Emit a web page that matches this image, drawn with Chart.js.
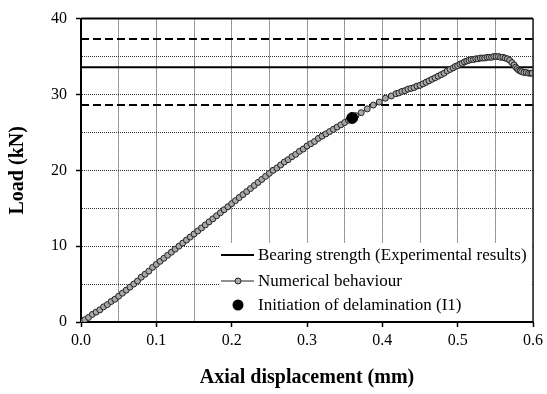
<!DOCTYPE html>
<html lang="en">
<head>
  <meta charset="UTF-8">
  <title>Load vs axial displacement</title>
  <script src="https://cdn.jsdelivr.net/npm/chart.js"></script>
  <style>
    body { margin: 0; background: #fff; }
    canvas { display: block; }
  </style>
</head>
<body>
  <canvas id="loadChart" width="547" height="394"></canvas>

  <script>
    // Numerical behaviour (mm, kN)
    const displacement = [
      0.000, 0.005, 0.010, 0.015, 0.020, 0.025, 0.030, 0.035, 0.040, 0.045,
      0.050, 0.055, 0.060, 0.065, 0.070, 0.075, 0.080, 0.085, 0.090, 0.095,
      0.100, 0.105, 0.110, 0.115, 0.120, 0.125, 0.130, 0.135, 0.140, 0.145,
      0.150, 0.155, 0.160, 0.165, 0.170, 0.175, 0.180, 0.185, 0.190, 0.195,
      0.200, 0.205, 0.210, 0.215, 0.220, 0.225, 0.230, 0.235, 0.240, 0.245,
      0.250, 0.255, 0.260, 0.265, 0.270, 0.275, 0.280, 0.285, 0.290, 0.295,
      0.300, 0.305, 0.310, 0.315, 0.320, 0.325, 0.330, 0.335, 0.340, 0.345,
      0.350, 0.355, 0.360, 0.365, 0.372, 0.380, 0.388, 0.396, 0.404, 0.412,
      0.418, 0.422, 0.426, 0.430, 0.434, 0.438, 0.442, 0.446, 0.450, 0.454,
      0.458, 0.462, 0.466, 0.470, 0.474, 0.478, 0.482, 0.486, 0.490, 0.494,
      0.497, 0.500, 0.503, 0.506, 0.509, 0.512, 0.515, 0.518, 0.521, 0.524,
      0.527, 0.530, 0.533, 0.536, 0.539, 0.542, 0.545, 0.548, 0.551, 0.554,
      0.557, 0.560, 0.563, 0.566, 0.569, 0.572, 0.575, 0.577, 0.579, 0.581,
      0.583, 0.585, 0.588, 0.591, 0.594, 0.597, 0.599
    ];
    const load = [
      0.0, 0.3, 0.6, 1.0, 1.3, 1.6, 2.0, 2.3, 2.7, 3.0,
      3.4, 3.8, 4.2, 4.6, 5.0, 5.4, 5.9, 6.3, 6.7, 7.2,
      7.6, 8.0, 8.4, 8.8, 9.2, 9.6, 10.0, 10.4, 10.8, 11.2,
      11.6, 12.0, 12.4, 12.8, 13.2, 13.6, 14.0, 14.4, 14.8, 15.2,
      15.6, 16.0, 16.4, 16.8, 17.2, 17.6, 18.0, 18.4, 18.8, 19.2,
      19.6, 20.0, 20.3, 20.7, 21.1, 21.4, 21.8, 22.1, 22.5, 22.8,
      23.2, 23.5, 23.8, 24.2, 24.5, 24.8, 25.1, 25.4, 25.7, 26.0,
      26.3, 26.6, 26.9, 27.2, 27.6, 28.1, 28.6, 29.0, 29.5, 29.8,
      30.1, 30.2, 30.4, 30.5, 30.7, 30.8, 30.9, 31.1, 31.2, 31.4,
      31.6, 31.8, 32.0, 32.2, 32.4, 32.6, 32.8, 33.1, 33.3, 33.5,
      33.7, 33.8, 34.0, 34.1, 34.3, 34.4, 34.5, 34.6, 34.6, 34.7,
      34.7, 34.8, 34.8, 34.8, 34.9, 34.9, 34.9, 35.0, 35.0, 35.0,
      34.9, 34.9, 34.8, 34.7, 34.5, 34.2, 33.9, 33.6, 33.4, 33.2,
      33.1, 33.0, 32.9, 32.9, 32.8, 32.8, 32.8
    ];

    // Initiation of delamination (I1)
    const delamX = [0.36];
    const delamY = [26.9];

    // Experimental bearing strength and its scatter band
    const lineX = [0, 0.6];
    const bearingStrength = 33.6;
    const bearingUpper = 37.3;
    const bearingLower = 28.6;

    const legendLabels = [
      'Bearing strength (Experimental results)',
      'Numerical behaviour',
      'Initiation of delamination (I1)'
    ];

    const serif = "'Liberation Serif', 'Times New Roman', serif";
    const markerFill = '#a8a8a8';
    const markerEdge = '#222';

    const numPoints = displacement.map((x, i) => ({ x: x, y: load[i] }));
    const delamPoints = delamX.map((x, i) => ({ x: x, y: delamY[i] }));
    const hLine = (v) => lineX.map(x => ({ x: x, y: v }));

    // top and right frame of the plot
    const framePlugin = {
      id: 'frame',
      afterDraw(chart) {
        const { ctx, chartArea: a } = chart;
        ctx.save();
        ctx.strokeStyle = '#000';
        ctx.lineWidth = 2;
        ctx.beginPath();
        ctx.moveTo(a.left, a.top);
        ctx.lineTo(a.right, a.top);
        ctx.stroke();
        ctx.lineWidth = 1.5;
        ctx.strokeStyle = '#222';
        ctx.beginPath();
        ctx.moveTo(a.right, a.top);
        ctx.lineTo(a.right, a.bottom);
        ctx.stroke();
        ctx.restore();
      }
    };

    // legend box in the lower right corner
    const legendPlugin = {
      id: 'cornerLegend',
      afterDatasetsDraw(chart) {
        const { ctx, chartArea: a } = chart;
        const left = a.right - 313;
        const top = a.bottom - 79;
        ctx.save();
        ctx.fillStyle = '#fff';
        ctx.fillRect(left, top, a.right - left - 1, a.bottom - top - 1);

        const rows = [a.bottom - 67, a.bottom - 41, a.bottom - 17];
        const symL = left + 1, symR = left + 34, symC = left + 18;

        ctx.strokeStyle = '#000';
        ctx.lineWidth = 2;
        ctx.beginPath();
        ctx.moveTo(symL, rows[0]);
        ctx.lineTo(symR, rows[0]);
        ctx.stroke();

        ctx.strokeStyle = markerEdge;
        ctx.lineWidth = 1;
        ctx.beginPath();
        ctx.moveTo(symL, rows[1]);
        ctx.lineTo(symR, rows[1]);
        ctx.stroke();
        ctx.beginPath();
        ctx.arc(symC, rows[1], 3, 0, Math.PI * 2);
        ctx.fillStyle = markerFill;
        ctx.fill();
        ctx.stroke();

        ctx.beginPath();
        ctx.arc(symC, rows[2], 5.5, 0, Math.PI * 2);
        ctx.fillStyle = '#000';
        ctx.fill();

        ctx.fillStyle = '#000';
        ctx.font = '17px ' + serif;
        ctx.textBaseline = 'middle';
        ctx.textAlign = 'left';
        legendLabels.forEach((t, i) => ctx.fillText(t, left + 38, rows[i] + 1));
        ctx.restore();
      }
    };

    const isMajorX = (v) => Math.round(v * 100) % 10 === 0;
    const isMajorY = (v) => Math.round(v) % 10 === 0;

    new Chart(document.getElementById('loadChart'), {
      type: 'scatter',
      data: {
        datasets: [
          {
            label: legendLabels[2],
            data: delamPoints,
            pointRadius: 5.5,
            pointBackgroundColor: '#000',
            pointBorderColor: '#000',
            showLine: false,
            order: 0
          },
          {
            label: legendLabels[1],
            data: numPoints,
            showLine: true,
            borderColor: markerEdge,
            borderWidth: 1,
            pointRadius: 3,
            pointBorderWidth: 1,
            pointBackgroundColor: markerFill,
            pointBorderColor: markerEdge,
            order: 1
          },
          {
            label: legendLabels[0],
            data: hLine(bearingStrength),
            showLine: true,
            borderColor: '#000',
            borderWidth: 2,
            pointRadius: 0,
            order: 2
          },
          {
            label: 'upper',
            data: hLine(bearingUpper),
            showLine: true,
            borderColor: '#000',
            borderWidth: 2,
            borderDash: [8, 4],
            pointRadius: 0,
            order: 3
          },
          {
            label: 'lower',
            data: hLine(bearingLower),
            showLine: true,
            borderColor: '#000',
            borderWidth: 2,
            borderDash: [8, 4],
            pointRadius: 0,
            order: 4
          }
        ]
      },
      options: {
        responsive: false,
        animation: false,
        layout: { padding: { top: 15, right: 12, left: 0, bottom: 0 } },
        plugins: {
          legend: { display: false },
          tooltip: { enabled: false }
        },
        scales: {
          x: {
            type: 'linear',
            min: 0,
            max: 0.6,
            afterFit: (s) => { s.height = 72; },
            ticks: {
              stepSize: 0.05,
              autoSkip: false,
              maxRotation: 0,
              padding: 4,
              color: '#000',
              font: { family: serif, size: 16 },
              callback: (v) => isMajorX(v) ? v.toFixed(1) : ''
            },
            grid: {
              color: '#333',
              lineWidth: 1,
              tickLength: 5,
              tickWidth: 1.5,
              tickColor: (c) => isMajorX(c.tick.value) ? '#000' : 'rgba(0,0,0,0)'
            },
            border: { color: '#000', width: 2, dash: [1, 1] },
            title: {
              display: true,
              text: 'Axial displacement (mm)',
              color: '#000',
              padding: { top: 0, bottom: 4 },
              font: { family: serif, size: 20, weight: 'bold' }
            }
          },
          y: {
            min: 0,
            max: 40,
            afterFit: (s) => { s.width = 81; },
            ticks: {
              stepSize: 5,
              autoSkip: false,
              padding: 9,
              color: '#000',
              font: { family: serif, size: 16 },
              callback: (v) => isMajorY(v) ? v : ''
            },
            grid: {
              color: '#333',
              lineWidth: 1,
              tickLength: 5,
              tickWidth: 1.5,
              tickColor: (c) => isMajorY(c.tick.value) ? '#000' : 'rgba(0,0,0,0)'
            },
            border: { color: '#000', width: 2, dash: [1, 1] },
            title: {
              display: true,
              text: 'Load (kN)',
              color: '#000',
              padding: { top: 6, bottom: 0 },
              font: { family: serif, size: 20, weight: 'bold' }
            }
          }
        }
      },
      plugins: [legendPlugin, framePlugin]
    });
  </script>
</body>
</html>
